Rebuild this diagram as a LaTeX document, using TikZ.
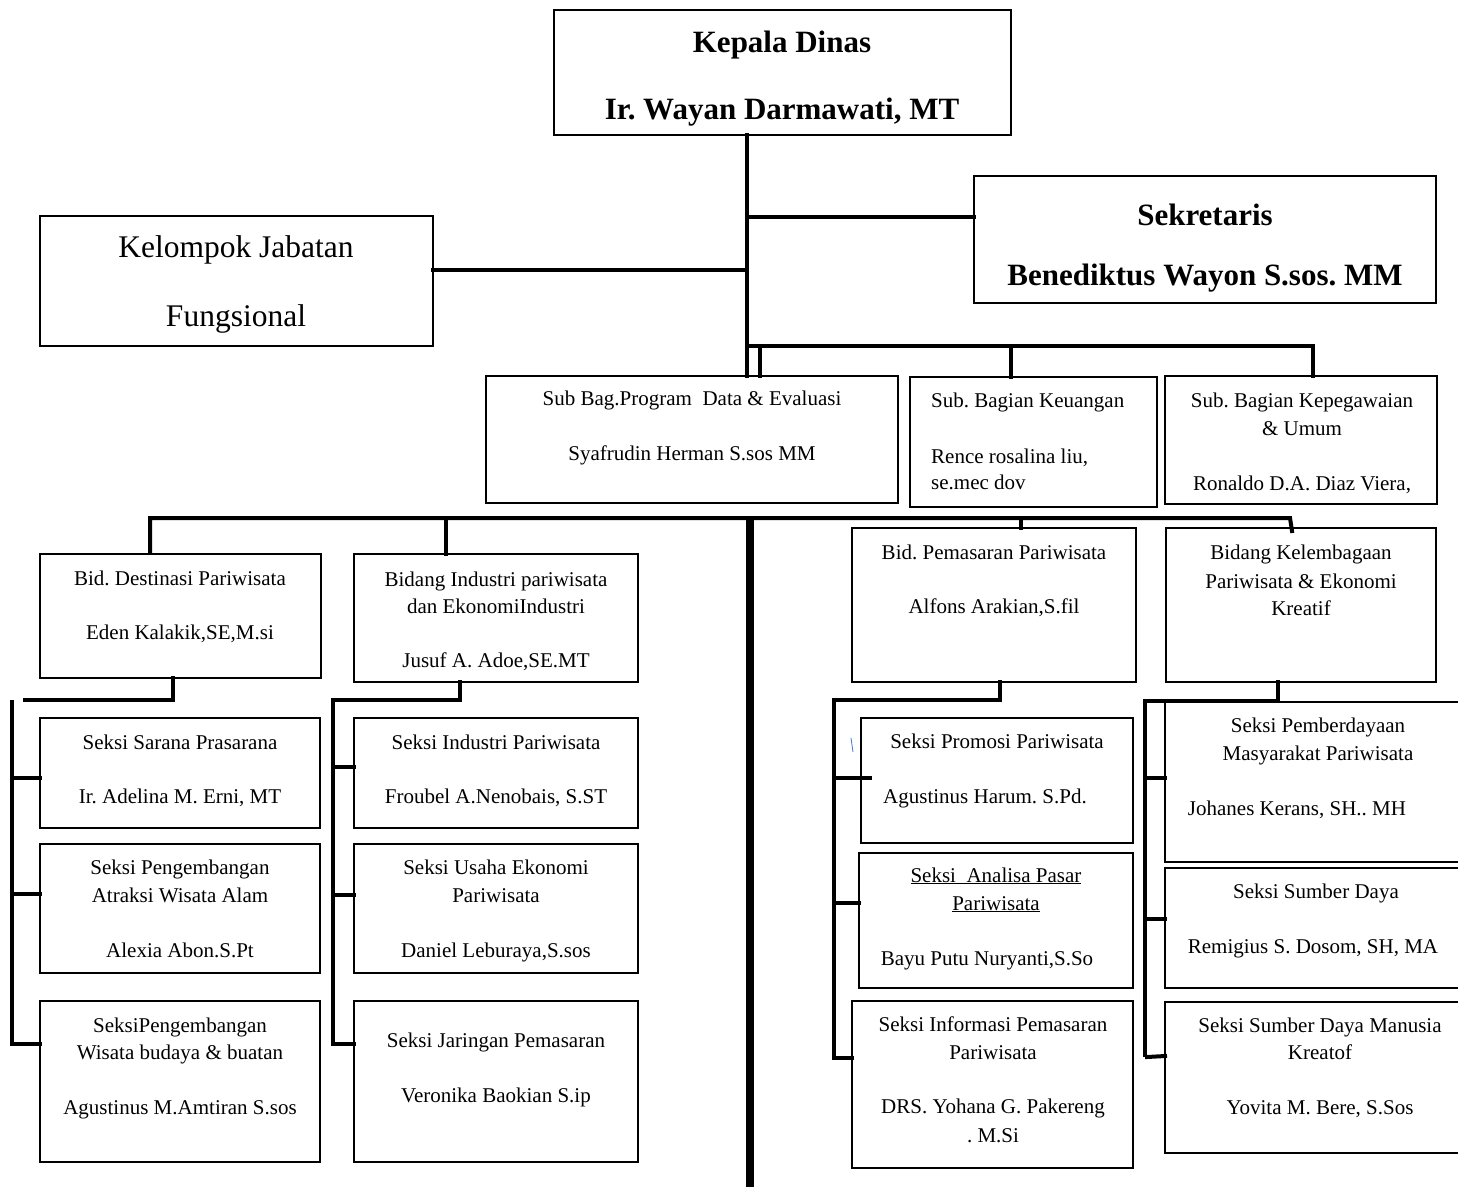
\documentclass[tikz,border=0pt]{standalone}
\usepackage{fontspec}
\setmainfont{Liberation Serif}
\frenchspacing
\tikzset{
  box/.style={draw, line width=2.6pt, anchor=north west, inner sep=0pt, outer sep=0pt},
  txt/.style={anchor=base, inner sep=0pt, font=\fontsize{21}{25}\selectfont},
  bigtxt/.style={anchor=base, inner sep=0pt, font=\fontsize{31}{36}\selectfont\bfseries},
  midtxt/.style={anchor=base, inner sep=0pt, font=\fontsize{31.5}{36}\selectfont},
  conn/.style={line width=3.6pt, line cap=rect, line join=miter},
  bus/.style={line width=4pt, line cap=rect, line join=miter},
  trunk/.style={line width=8pt},
}
\newcommand\bx[5]{\node[box, minimum width={(#4-#2)*1pt}, minimum height={(#5-#3)*1pt}] (#1) at (#2,#3) {};}
\newcommand\tl[5][txt]{\node[#1] (#2) at (#3,#4) {#5};}
\begin{document}
\begin{tikzpicture}[x=1pt,y=-1pt]
\useasboundingbox (0,0) rectangle (1458,1186);
\clip (0,0) rectangle (1458,1186);
\fill[white] (0,0) rectangle (1458,1186);

% ---------- boxes ----------
\bx{kepala}{554}{10}{1011}{135}
\bx{sekr}{974}{176}{1436}{303}
\bx{kelompok}{40}{216}{433}{346}
\bx{subbag}{486}{376}{898}{503}
\bx{keu}{910}{377}{1157}{507}
\bx{kepeg}{1165}{376}{1437}{504}
\bx{dest}{40}{554}{321}{678}
\bx{indus}{354}{554}{638}{682}
\bx{pemas}{852}{528}{1136}{682}
\bx{lemb}{1166}{528}{1436}{682}
\bx{sarana}{40}{718}{320}{828}
\bx{atraksi}{40}{844}{320}{973}
\bx{wbudaya}{40}{1001}{320}{1162}
\bx{sindus}{354}{718}{638}{828}
\bx{usaha}{354}{844}{638}{973}
\bx{jaring}{354}{1001}{638}{1162}
\bx{promosi}{861}{718}{1133}{843}
\bx{analisa}{859}{853}{1133}{988}
\bx{informasi}{852}{1001}{1133}{1168}
\bx{berdaya}{1165}{702}{1478}{862}
\bx{sumber}{1165}{868}{1478}{988}
\bx{sdm}{1165}{1002}{1478}{1153}

% ---------- texts ----------
\tl[bigtxt]{kepalaA}{782}{52}{Kepala Dinas}
\tl[bigtxt]{kepalaB}{782}{119}{Ir. Wayan Darmawati, MT}
\tl[bigtxt]{sekrA}{1205}{225}{Sekretaris}
\tl[bigtxt]{sekrB}{1205}{285}{Benediktus Wayon S.sos. MM}
\tl[midtxt]{kelA}{236}{257}{Kelompok Jabatan}
\tl[midtxt]{kelB}{236}{326}{Fungsional}

\tl{subbagA}{692}{405}{Sub Bag.Program\ \ Data \& Evaluasi}
\tl{subbagB}{692}{460}{Syafrudin Herman S.sos MM}
\node[txt, anchor=base west] (keuA) at (931,407) {Sub. Bagian Keuangan};
\node[txt, anchor=base west] (keuB) at (931,463) {Rence rosalina liu,};
\node[txt, anchor=base west] (keuC) at (931,489) {se.mec dov};
\tl{kepegA}{1302}{407}{Sub. Bagian Kepegawaian}
\tl{kepegB}{1302}{435}{\& Umum}
\tl{kepegC}{1302}{490}{Ronaldo D.A. Diaz Viera,}

\tl{destA}{180}{585}{Bid. Destinasi Pariwisata}
\tl{destB}{180}{639}{Eden Kalakik,SE,M.si}
\tl{indusA}{496}{586}{Bidang Industri pariwisata}
\tl{indusB}{496}{613}{dan EkonomiIndustri}
\tl{indusC}{496}{667}{Jusuf A. Adoe,SE.MT}
\tl{pemasA}{994}{559}{Bid. Pemasaran Pariwisata}
\tl{pemasB}{994}{613}{Alfons Arakian,S.fil}
\tl{lembA}{1301}{559}{Bidang Kelembagaan}
\tl{lembB}{1301}{588}{Pariwisata \& Ekonomi}
\tl{lembC}{1301}{615}{Kreatif}

\tl{saranaA}{180}{749}{Seksi Sarana Prasarana}
\tl{saranaB}{180}{803}{Ir. Adelina M. Erni, MT}
\tl{atraksiA}{180}{874}{Seksi Pengembangan}
\tl{atraksiB}{180}{902}{Atraksi Wisata Alam}
\tl{atraksiC}{180}{957}{Alexia Abon.S.Pt}
\tl{wbA}{180}{1032}{SeksiPengembangan}
\tl{wbB}{180}{1059}{Wisata budaya \& buatan}
\tl{wbC}{180}{1114}{Agustinus M.Amtiran S.sos}

\tl{sindusA}{496}{749}{Seksi Industri Pariwisata}
\tl{sindusB}{496}{803}{Froubel A.Nenobais, S.ST}
\tl{usahaA}{496}{874}{Seksi Usaha Ekonomi}
\tl{usahaB}{496}{902}{Pariwisata}
\tl{usahaC}{496}{957}{Daniel Leburaya,S.sos}
\tl{jaringA}{496}{1047}{Seksi Jaringan Pemasaran}
\tl{jaringB}{496}{1102}{Veronika Baokian S.ip}

\tl{promosiA}{997}{748}{Seksi Promosi Pariwisata}
\tl{promosiB}{985}{803}{Agustinus Harum. S.Pd.}
\tl{analisaA}{996}{882}{\underline{Seksi\ \ Analisa Pasar}}
\tl{analisaB}{996}{910}{\underline{Pariwisata}}
\tl{analisaC}{987}{965}{Bayu Putu Nuryanti,S.So}
\tl{infoA}{993}{1031}{Seksi Informasi Pemasaran}
\tl{infoB}{993}{1059}{Pariwisata}
\tl{infoC}{993}{1113}{DRS. Yohana G. Pakereng}
\tl{infoD}{993}{1142}{. M.Si}

\tl{berdayaA}{1318}{732}{Seksi Pemberdayaan}
\tl{berdayaB}{1318}{760}{Masyarakat Pariwisata}
\tl{berdayaC}{1297}{815}{Johanes Kerans, SH.. MH}
\tl{sumberA}{1316}{898}{Seksi Sumber Daya}
\tl{sumberB}{1313}{953}{Remigius S. Dosom, SH, MA}
\tl{sdmA}{1320}{1032}{Seksi Sumber Daya Manusia}
\tl{sdmB}{1320}{1059}{Kreatof}
\tl{sdmC}{1320}{1114}{Yovita M. Bere, S.Sos}

% ---------- top connectors ----------
\coordinate (tk) at (747,135);
\coordinate (jS) at (747,217);
\coordinate (jK) at (747,270);
\coordinate (jU) at (747,346);
\coordinate (jU2) at (760,348);
\draw[conn] (tk) -- (tk |- subbag.north);
\draw[conn] (jS) -- (jS -| sekr.west);
\draw[conn] (jK) -- (jK -| kelompok.east);
\draw[conn] (jU) -- (1313,346) -- (1313,346 |- kepeg.north);
\draw[conn] (jU2) -- (jU2 |- subbag.north);
\draw[conn] (1011,346) -- (1011,346 |- keu.north);

% ---------- middle bus ----------
\coordinate (L0) at (150,518);
\coordinate (L1) at (1290,518);
\coordinate (dI) at (446,518);
\coordinate (dP) at (1021,518);
\coordinate (dT) at (750,518);
\coordinate (tEnd) at (750,1192);
\draw[bus] (150,551) -- (L0) -- (L1) -- (1292,531);
\draw[bus] (dI) -- (dI |- indus.north);
\draw[bus] (dP) -- (dP |- pemas.north);
\draw[trunk] (dT) -- (tEnd);

% ---------- destinasi group ----------
\coordinate (dA) at (173,700);
\draw[bus] (dA |- dest.south) -- (dA) -- (25,700);
\coordinate (vA) at (12,702);
\draw[bus] (vA) -- (12,1044);
\draw[bus] (12,778) -- (12,778 -| sarana.west);
\draw[bus] (12,894) -- (12,894 -| atraksi.west);
\draw[bus] (12,1044) -- (12,1044 -| wbudaya.west);

% ---------- industri group ----------
\coordinate (iA) at (460,700);
\draw[bus] (iA |- indus.south) -- (iA) -- (333,700) -- (333,1044);
\draw[bus] (333,767) -- (333,767 -| sindus.west);
\draw[bus] (333,895) -- (333,895 -| usaha.west);
\draw[bus] (333,1044) -- (333,1044 -| jaring.west);

% ---------- pemasaran group ----------
\coordinate (pA) at (1000,700);
\draw[bus] (pA |- pemas.south) -- (pA) -- (834,700) -- (834,1058);
\draw[bus] (834,778) -- (870,778);
\draw[bus] (834,903) -- (834,903 -| analisa.west);
\draw[bus] (834,1058) -- (834,1058 -| informasi.west);
\draw[line width=0.8pt, color={rgb,255:red,70;green,120;blue,200}] (851,738) -- (853,752);

% ---------- kelembagaan group ----------
\coordinate (kA) at (1278,701);
\draw[bus] (kA |- lemb.south) -- (kA) -- (1145,701) -- (1145,1055);
\draw[bus] (1145,778) -- (1145,778 -| berdaya.west);
\draw[bus] (1145,919) -- (1145,919 -| sumber.west);
\draw[bus] (1147,1057) -- (1147,1056 -| sdm.west);
\end{tikzpicture}
\end{document}
